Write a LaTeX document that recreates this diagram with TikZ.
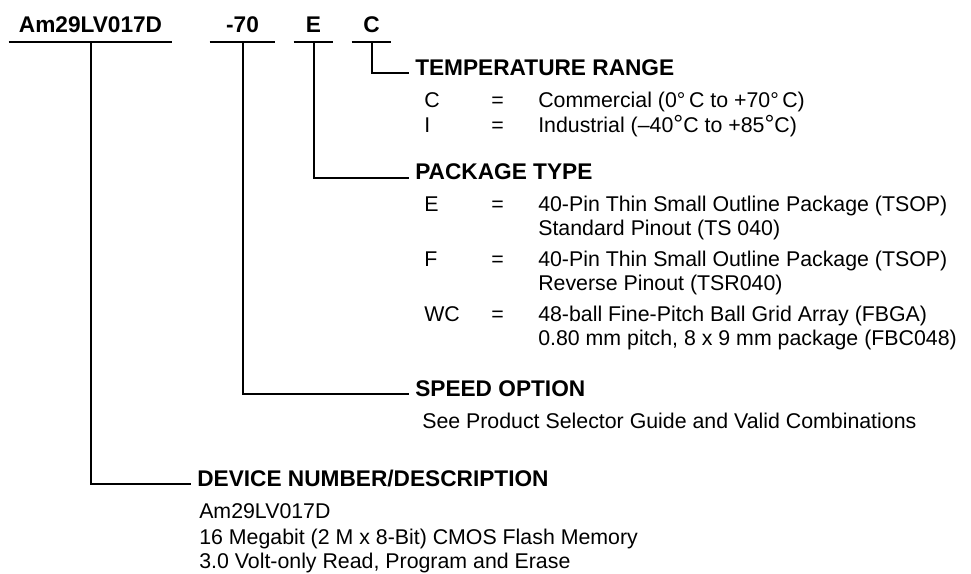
\documentclass[tikz,border=0pt]{standalone}
\usepackage{fontspec}
\setmainfont{Liberation Sans}
\usetikzlibrary{positioning}

\newcommand{\ringdeg}{{\fontsize{18.5}{18}\selectfont °}}

\tikzset{
  rule/.style={line width=1.5pt},
  part/.style={font=\fontsize{17}{19}\selectfont\bfseries, anchor=base, inner xsep=0pt, inner ysep=6.75pt, text depth=0pt},
  head/.style={font=\fontsize{17}{19}\selectfont\bfseries, anchor=base west, inner sep=0pt},
  txt/.style={font=\fontsize{16}{18}\selectfont, anchor=base west, inner sep=0pt}
}

\begin{document}
\begin{tikzpicture}[x=0.75pt, y=-0.75pt]
        \useasboundingbox (0,0) rectangle (971,574);

        % ordering code
        \node[part, minimum width=122.25pt] (device) at (90.5,33) {Am29LV017D};
        \node[part, minimum width=48.75pt] (speed) at (242.5,33) {-70};
        \node[part, minimum width=29.25pt] (package) at (313.5,33) {E};
        \node[part, minimum width=29.25pt] (temp) at (371.5,33) {C};
        \foreach \p in {device, speed, package, temp}
            \draw[rule] (\p.south west) -- (\p.south east);

        % temperature range
        \node[head] (temphead) at (415,76) {TEMPERATURE RANGE};
        \node[txt] (tempkeyc) at (424,108) {C};
        \node[txt] (tempeqc) at (491,108) {=};
        \node[txt] (tempc) at (538,108) {Commercial (0°\,C to +70°\,C)};
        \node[txt] (tempkeyi) at (424,133) {I};
        \node[txt] (tempeqi) at (491,133) {=};
        \node[txt] (tempi) at (538,133) {Industrial (–40\ringdeg C to +85\ringdeg C)};

        % package type
        \node[head] (packhead) at (415,180) {PACKAGE TYPE};
        \node[txt] (packkeye) at (424,211) {E};
        \node[txt] (packeqe) at (491,211) {=};
        \node[txt] (packe) at (538,211) {40-Pin Thin Small Outline Package (TSOP)};
        \node[txt] (packe2) at (538,235) {Standard Pinout (TS 040)};
        \node[txt] (packkeyf) at (424,266) {F};
        \node[txt] (packeqf) at (491,266) {=};
        \node[txt] (packf) at (538,266) {40-Pin Thin Small Outline Package (TSOP)};
        \node[txt] (packf2) at (538,290) {Reverse Pinout (TSR040)};
        \node[txt] (packkeywc) at (424,321) {WC};
        \node[txt] (packeqwc) at (491,321) {=};
        \node[txt] (packwc) at (538,321) {48-ball Fine-Pitch Ball Grid Array (FBGA)};
        \node[txt] (packwc2) at (538,345) {0.80 mm pitch, 8 x 9 mm package (FBC048)};

        % speed option
        \node[head] (speedhead) at (415,396) {SPEED OPTION};
        \node[txt] (speedtxt) at (422,428) {See Product Selector Guide and Valid Combinations};

        % device number
        \node[head] (devhead) at (197,486) {DEVICE NUMBER/DESCRIPTION};
        \node[txt] (devtxt1) at (199,518) {Am29LV017D};
        \node[txt] (devtxt2) at (199,544) {16 Megabit (2 M x 8-Bit) CMOS Flash Memory};
        \node[txt] (devtxt3) at (199,568) {3.0 Volt-only Read, Program and Erase};

        \draw[rule] (temp.south) |- ([xshift=-4.5pt, yshift=2pt]temphead.base west);
        \draw[rule] (package.south) |- ([xshift=-4.5pt, yshift=1.5pt]packhead.base west);
        \draw[rule] (speed.south) |- ([xshift=-4.5pt, yshift=1.5pt]speedhead.base west);
        \draw[rule] (device.south) |- ([xshift=-4.5pt, yshift=1.5pt]devhead.base west);
    \end{tikzpicture}
\end{document}
